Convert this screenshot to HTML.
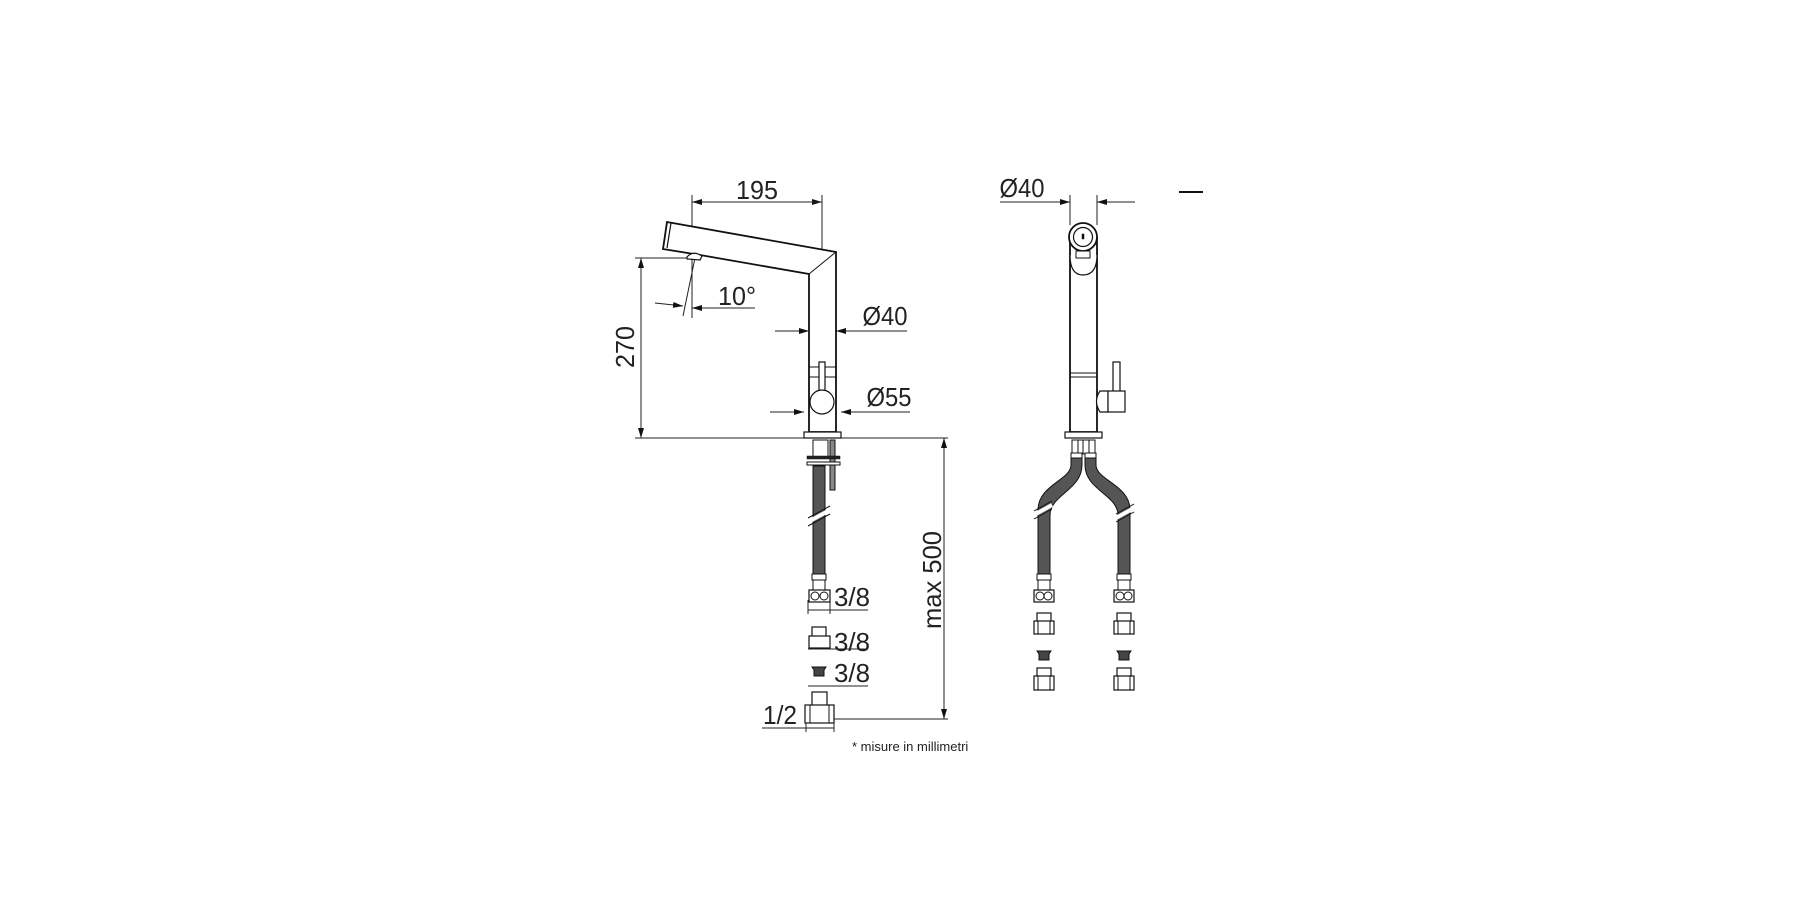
<!DOCTYPE html>
<html><head><meta charset="utf-8"><style>
html,body{margin:0;padding:0;background:#fff;}
svg{display:block;}
text{font-family:"Liberation Sans",sans-serif;fill:#222;}
</style></head><body>
<svg width="1800" height="900" viewBox="0 0 1800 900" xmlns="http://www.w3.org/2000/svg">
<defs>
<marker id="a" viewBox="0 0 10 6" refX="10" refY="3" markerWidth="10" markerHeight="6" orient="auto" markerUnits="userSpaceOnUse"><path d="M0,0L10,3L0,6z" fill="#111"/></marker>
</defs>
<g stroke="#222" stroke-width="1" fill="none">
<!-- floor line -->
<line x1="635" y1="438" x2="948" y2="438"/>
<!-- 195 dim -->
<line x1="692" y1="195" x2="692" y2="318"/>
<line x1="822" y1="195" x2="822" y2="362"/>
<line x1="692" y1="202" x2="822" y2="202" marker-end="url(#a)" marker-start="url(#a)" style="marker-start:none"/>
<line x1="822" y1="202" x2="692" y2="202" marker-end="url(#a)"/>
<!-- 270 dim -->
<line x1="635" y1="258" x2="693" y2="258"/>
<line x1="641" y1="350" x2="641" y2="258" marker-end="url(#a)"/>
<line x1="641" y1="350" x2="641" y2="438" marker-end="url(#a)"/>
<!-- 10 deg -->
<line x1="695" y1="258" x2="683" y2="316"/>
<line x1="655" y1="303" x2="683" y2="306" marker-end="url(#a)"/>
<line x1="755" y1="308" x2="692" y2="308" marker-end="url(#a)"/>
<!-- Ø40 -->
<line x1="775" y1="331" x2="809" y2="331" marker-end="url(#a)"/>
<line x1="907" y1="331" x2="836" y2="331" marker-end="url(#a)"/>
<!-- Ø55 -->
<line x1="770" y1="412" x2="804" y2="412" marker-end="url(#a)"/>
<line x1="910" y1="412" x2="841" y2="412" marker-end="url(#a)"/>
<!-- max 500 -->
<line x1="944" y1="580" x2="944" y2="438" marker-end="url(#a)"/>
<line x1="944" y1="580" x2="944" y2="719" marker-end="url(#a)"/>
<line x1="834" y1="719" x2="948" y2="719"/>
<!-- fitting dims -->
<line x1="808" y1="610" x2="868" y2="610"/>
<line x1="808" y1="600" x2="808" y2="614"/><line x1="830" y1="600" x2="830" y2="614"/>
<line x1="808" y1="649" x2="868" y2="649"/>
<line x1="808" y1="686" x2="868" y2="686"/>
<line x1="762" y1="728" x2="834" y2="728"/>
<line x1="806" y1="720" x2="806" y2="732"/><line x1="834" y1="720" x2="834" y2="732"/>
<!-- right Ø40 -->
<line x1="1070" y1="195" x2="1070" y2="225"/>
<line x1="1097" y1="195" x2="1097" y2="225"/>
<line x1="1000" y1="202" x2="1070" y2="202" marker-end="url(#a)"/>
<line x1="1135" y1="202" x2="1097" y2="202" marker-end="url(#a)"/>
</g>
<line x1="1179" y1="192" x2="1203" y2="192" stroke="#111" stroke-width="2"/>

<!-- LEFT FAUCET -->
<g stroke="#111" stroke-width="1.8" fill="#fff">
<path d="M667,222 L836,252 L836,432 L809,432 L809,274 L700,255 L663,249 Z"/>
<line x1="809" y1="274" x2="836" y2="252" stroke-width="1"/>
<path d="M667,222 L663,249 M671,223 L667,248" stroke-width="1.2"/>
<path d="M687,257 Q693,250 702,256 L700,260 L687,259Z" stroke-width="1.2"/>
<line x1="809" y1="367" x2="836" y2="367" stroke-width="1"/>
<line x1="809" y1="377" x2="836" y2="377" stroke-width="1"/>
<rect x="819" y="362" width="6" height="30" stroke-width="1.2"/>
<circle cx="822" cy="402" r="12" stroke-width="1.2"/>
<rect x="804" y="432" width="37" height="6" stroke-width="1.2"/>
<!-- under-counter left -->
<rect x="813" y="440" width="15" height="18" stroke-width="1"/>
<rect x="830" y="440" width="5" height="50" fill="#888" stroke-width="1"/>
<rect x="807" y="456" width="33" height="3" fill="#222" stroke-width="0.5"/>
<rect x="807" y="462" width="33" height="3" fill="#fff" stroke-width="1"/>
<path d="M813,466 L825,466 L825,575 L813,575 Z" fill="#555" stroke-width="1"/>
<line x1="808" y1="522" x2="830" y2="510" stroke="#fff" stroke-width="4"/>
<line x1="808" y1="526" x2="830" y2="514" stroke-width="1"/>
<line x1="808" y1="518" x2="830" y2="506" stroke-width="1"/>
<rect x="812" y="574" width="14" height="6" stroke-width="1"/>
<rect x="813" y="580" width="12" height="10" stroke-width="1"/>
<rect x="809" y="590" width="21" height="12" stroke-width="1.2"/>
<circle cx="815" cy="596" r="4" stroke-width="1"/><circle cx="824" cy="596" r="4" stroke-width="1"/>
<rect x="812" y="627" width="14" height="10" stroke-width="1.2"/>
<rect x="809" y="636" width="21" height="12" stroke-width="1.2"/>
<path d="M812,667 L826,667 L824,670 L824,676 L814,676 L814,670 Z" fill="#444" stroke-width="1"/>
<rect x="812" y="692" width="15" height="14" stroke-width="1.2"/>
<rect x="805" y="705" width="29" height="18" stroke-width="1.2"/>
<line x1="810" y1="705" x2="810" y2="723" stroke-width="1"/><line x1="829" y1="705" x2="829" y2="723" stroke-width="1"/>
</g>

<!-- RIGHT FAUCET -->
<g stroke="#111" stroke-width="1.8" fill="#fff">
<path d="M1070,237 L1070,432 L1097,432 L1097,237"/>
<path d="M1070,255 Q1070,275 1083,275 Q1097,275 1097,255" stroke-width="1.2"/>
<circle cx="1083" cy="237" r="14"/>
<circle cx="1083" cy="237" r="9.5" stroke-width="1.2"/>
<rect x="1082" y="234" width="2" height="5" fill="#111" stroke-width="0.5"/>
<rect x="1076" y="251" width="14" height="7" stroke-width="1"/>
<line x1="1070" y1="373" x2="1097" y2="373" stroke-width="1"/>
<line x1="1070" y1="377" x2="1097" y2="377" stroke-width="1"/>
<rect x="1113" y="362" width="7" height="30" stroke-width="1.2"/>
<path d="M1108,391 L1100,391 Q1093,401 1100,412 L1108,412 Z" stroke-width="1.2"/>
<rect x="1108" y="391" width="17" height="21" stroke-width="1.2"/>
<rect x="1065" y="432" width="37" height="6" stroke-width="1.2"/>
<rect x="1072" y="440" width="23" height="14" stroke-width="1"/>
<line x1="1078" y1="440" x2="1078" y2="454" stroke-width="1"/><line x1="1083" y1="440" x2="1083" y2="454" stroke-width="1"/><line x1="1089" y1="440" x2="1089" y2="454" stroke-width="1"/>
<!-- hoses -->
<path d="M1071,455 L1082,455 L1082,465 C1082,490 1050,495 1050,515 L1050,575 L1038,575 L1038,510 C1038,485 1071,480 1071,465 Z" fill="#555" stroke-width="1"/>
<path d="M1085,455 L1096,455 L1096,465 C1096,480 1130,485 1130,510 L1130,575 L1118,575 L1118,515 C1118,495 1085,490 1085,465 Z" fill="#555" stroke-width="1"/>
<rect x="1071" y="453" width="11" height="5" stroke-width="1"/>
<rect x="1085" y="453" width="11" height="5" stroke-width="1"/>
<line x1="1034" y1="515" x2="1052" y2="505" stroke="#fff" stroke-width="4"/>
<line x1="1034" y1="519" x2="1052" y2="509" stroke-width="1"/><line x1="1034" y1="511" x2="1052" y2="501" stroke-width="1"/>
<line x1="1116" y1="518" x2="1134" y2="508" stroke="#fff" stroke-width="4"/>
<line x1="1116" y1="522" x2="1134" y2="512" stroke-width="1"/><line x1="1116" y1="514" x2="1134" y2="504" stroke-width="1"/>
<g id="fit">
<rect x="1037" y="574" width="14" height="6" stroke-width="1"/>
<rect x="1038" y="580" width="12" height="10" stroke-width="1"/>
<rect x="1034" y="590" width="20" height="12" stroke-width="1.2"/>
<circle cx="1040" cy="596" r="4" stroke-width="1"/><circle cx="1048" cy="596" r="4" stroke-width="1"/>
<rect x="1037" y="613" width="14" height="9" stroke-width="1.2"/>
<rect x="1034" y="621" width="20" height="13" stroke-width="1.2"/>
<line x1="1038" y1="621" x2="1038" y2="634" stroke-width="1"/><line x1="1050" y1="621" x2="1050" y2="634" stroke-width="1"/>
<path d="M1037,651 L1051,651 L1049,654 L1049,660 L1039,660 L1039,654 Z" fill="#444" stroke-width="1"/>
<rect x="1037" y="668" width="14" height="9" stroke-width="1.2"/>
<rect x="1034" y="676" width="20" height="14" stroke-width="1.2"/>
<line x1="1038" y1="676" x2="1038" y2="690" stroke-width="1"/><line x1="1050" y1="676" x2="1050" y2="690" stroke-width="1"/>
</g>
<use href="#fit" transform="translate(80,0)"/>
</g>

<!-- TEXT -->
<g font-size="26">
<text x="757" y="199" text-anchor="middle" textLength="42" lengthAdjust="spacingAndGlyphs">195</text>
<text x="737" y="305" text-anchor="middle" textLength="38" lengthAdjust="spacingAndGlyphs">10°</text>
<text x="885" y="325" text-anchor="middle" textLength="45" lengthAdjust="spacingAndGlyphs">Ø40</text>
<text x="889" y="406" text-anchor="middle" textLength="45" lengthAdjust="spacingAndGlyphs">Ø55</text>
<text x="1022" y="197" text-anchor="middle" textLength="45" lengthAdjust="spacingAndGlyphs">Ø40</text>
<text transform="translate(634,347) rotate(-90)" text-anchor="middle" textLength="42" lengthAdjust="spacingAndGlyphs">270</text>
<text transform="translate(941,580) rotate(-90)" text-anchor="middle" textLength="98" lengthAdjust="spacingAndGlyphs">max 500</text>
<text x="852" y="606" text-anchor="middle" textLength="36" lengthAdjust="spacingAndGlyphs">3/8</text>
<text x="852" y="651" text-anchor="middle" textLength="36" lengthAdjust="spacingAndGlyphs">3/8</text>
<text x="852" y="682" text-anchor="middle" textLength="36" lengthAdjust="spacingAndGlyphs">3/8</text>
<text x="780" y="724" text-anchor="middle" textLength="34" lengthAdjust="spacingAndGlyphs">1/2</text>
</g>
<text x="852" y="751" font-size="13">* misure in millimetri</text>
</svg>
</body></html>
